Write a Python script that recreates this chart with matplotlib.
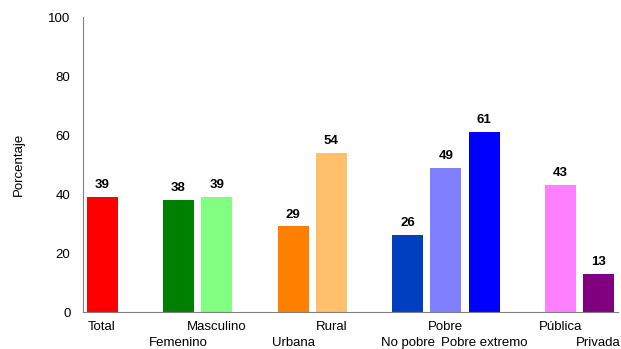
import matplotlib.pyplot as plt
import matplotlib.transforms as mtransforms

plt.rcParams['font.family'] = ['Liberation Sans', 'DejaVu Sans']

# datos del gráfico
categorias = ['Total', 'Femenino', 'Masculino', 'Urbana', 'Rural',
              'No pobre', 'Pobre', 'Pobre extremo', 'Pública', 'Privada']
valores = [39, 38, 39, 29, 54, 26, 49, 61, 43, 13]
posiciones = [0, 2, 3, 5, 6, 8, 9, 10, 12, 13]
colores = ['#ff0000', '#008000', '#80ff80', '#ff8000', '#ffc06c',
           '#0040c0', '#8080ff', '#0000ff', '#ff80ff', '#800080']

fig = plt.figure(figsize=(6.21, 3.49), dpi=100)
ax = fig.add_axes([0.1337, 0.106, 0.861, 0.845])

ax.bar(posiciones, valores, width=0.81, color=colores)

for x, v in zip(posiciones, valores):
    ax.text(x, v + 2, str(v), ha='center', va='bottom',
            fontsize=9.5, fontweight='bold')

# etiquetas alternadas arriba / abajo
trans = mtransforms.blended_transform_factory(ax.transData, ax.transAxes)
for i, (x, c) in enumerate(zip(posiciones, categorias)):
    y = -0.051 if i % 2 == 0 else -0.105
    ax.text(x, y, c, transform=trans, ha='center', va='center', fontsize=9.5)

ax.set_xticks([])
ax.set_xlim(-0.5, 13.5)
ax.set_ylim(0, 100)
ax.set_yticks([0, 20, 40, 60, 80, 100])
ax.tick_params(axis='y', length=0, labelsize=9.5, pad=9)

ax.spines['top'].set_visible(False)
ax.spines['right'].set_visible(False)
ax.spines['left'].set_color('#808080')
ax.spines['bottom'].set_color('#808080')

ax.set_ylabel('Porcentaje', fontsize=9.5, labelpad=17)

fig.savefig('out.png', dpi=100)
